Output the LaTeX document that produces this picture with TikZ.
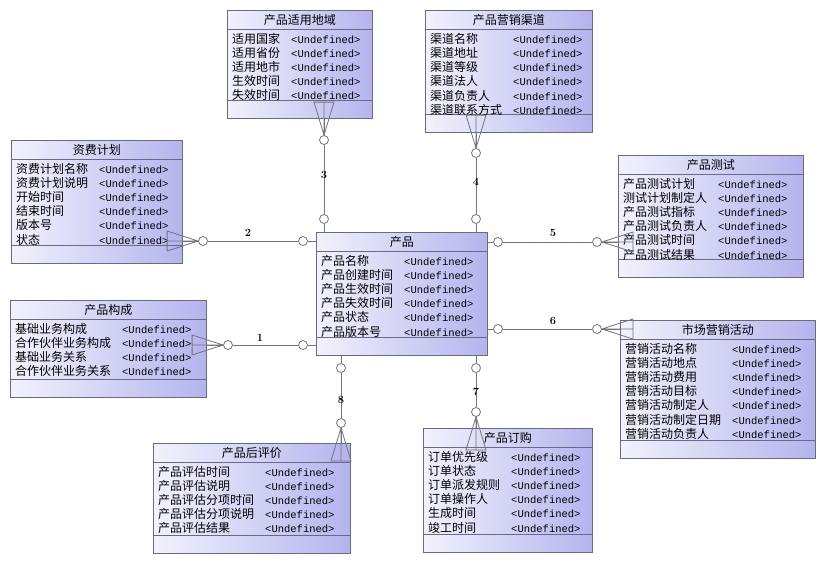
\documentclass[tikz,border=0pt]{standalone}
\usepackage{fontspec}
\newfontfamily\cjk{Noto Sans CJK SC}
\newfontfamily\undf{Liberation Mono}
\usetikzlibrary{calc}
\definecolor{boxl}{HTML}{F2F2FC}
\definecolor{boxr}{HTML}{B4B4EE}
\definecolor{boxline}{HTML}{6A6A88}
\definecolor{linkgray}{HTML}{74747E}
\newcommand\und{{\undf\fontsize{10.5}{13.5}\selectfont<Undefined>}}
% box, title bar, rows and empty bottom bar
\newcommand\entity[7]{%
  \node[ebox,minimum width=#3,minimum height=#4] (#1) at (#2) {};
  \draw[esep] ([yshift=-19pt]#1.north west) -- ([yshift=-19pt]#1.north east);
  \draw[esep] ([yshift=18pt]#1.south west) -- ([yshift=18pt]#1.south east);
  \node[etitle] (#1-t) at ([yshift=-9.5pt]#1.north) {#5};
  \node[erows] (#1-r) at ([xshift=5pt,yshift=-23pt]#1.north west)
    {\begin{tabular}{@{}l@{\hspace{11pt}}l@{}}#6\end{tabular}};
}
\tikzset{
  ebox/.style={draw=boxline,line width=0.8pt,left color=boxl,right color=boxr,
    anchor=north west,inner sep=0pt},
  esep/.style={draw=boxline,line width=0.8pt},
  etitle/.style={font=\cjk\fontsize{12}{13.5}\selectfont,inner sep=0pt},
  erows/.style={anchor=north west,inner sep=0pt,font=\cjk\fontsize{12}{13.5}\selectfont},
  link/.style={draw=linkgray,line width=0.8pt},
  endc/.style={circle,draw=linkgray,fill=white,line width=0.8pt,inner sep=0pt,minimum size=9pt},
  lbl/.style={font=\bfseries\fontsize{11}{12}\selectfont,inner sep=0pt},
  crowh/.pic={\draw[link] (-31,-10) -- (0,0) -- (-31,10) -- cycle (0,0) -- (-31,0);},
  crowv/.pic={\draw[link] (-10,-33) -- (0,0) -- (10,-33) -- cycle (0,0) -- (0,-33);}
}

\begin{document}
\begin{tikzpicture}[x=1pt,y=-1pt]
  \fill[white] (0,0) rectangle (833,582);
  \useasboundingbox (0,0) rectangle (833,582);

  \entity{plan}{11,140}{171}{123}{资费计划}{%
    资费计划名称 & \und\\ 资费计划说明 & \und\\ 开始时间 & \und\\
    结束时间 & \und\\ 版本号 & \und\\ 状态 & \und}{}
  \entity{compose}{10,300}{196}{97}{产品构成}{%
    基础业务构成 & \und\\ 合作伙伴业务构成 & \und\\ 基础业务关系 & \und\\
    合作伙伴业务关系 & \und}{}
  \entity{region}{227,10}{145}{108}{产品适用地域}{%
    适用国家 & \und\\ 适用省份 & \und\\ 适用地市 & \und\\
    生效时间 & \und\\ 失效时间 & \und}{}
  \entity{channel}{425,10}{167}{122}{产品营销渠道}{%
    渠道名称 & \und\\ 渠道地址 & \und\\ 渠道等级 & \und\\
    渠道法人 & \und\\ 渠道负责人 & \und\\ 渠道联系方式 & \und}{}
  \entity{product}{316,232}{171}{123}{产品}{%
    产品名称 & \und\\ 产品创建时间 & \und\\ 产品生效时间 & \und\\
    产品失效时间 & \und\\ 产品状态 & \und\\ 产品版本号 & \und}{}
  \entity{test}{618,155}{185}{122}{产品测试}{%
    产品测试计划 & \und\\ 测试计划制定人 & \und\\ 产品测试指标 & \und\\
    产品测试负责人 & \und\\ 产品测试时间 & \und\\ 产品测试结果 & \und}{}
  \entity{market}{620,320}{195}{138}{市场营销活动}{%
    营销活动名称 & \und\\ 营销活动地点 & \und\\ 营销活动费用 & \und\\
    营销活动目标 & \und\\ 营销活动制定人 & \und\\ 营销活动制定日期 & \und\\
    营销活动负责人 & \und}{}
  \entity{review}{153,443}{197}{110}{产品后评价}{%
    产品评估时间 & \und\\ 产品评估说明 & \und\\ 产品评估分项时间 & \und\\
    产品评估分项说明 & \und\\ 产品评估结果 & \und}{}
  \entity{order}{423,428}{169}{124}{产品订购}{%
    订单优先级 & \und\\ 订单状态 & \und\\ 订单派发规则 & \und\\
    订单操作人 & \und\\ 生成时间 & \und\\ 竣工时间 & \und}{}

  % relationship ends
  \node[endc] (c1a) at (303,345) {};
  \node[endc] (c1b) at (228,345) {};
  \node[endc] (c2a) at (303,241) {};
  \node[endc] (c2b) at (203,241) {};
  \node[endc] (c3a) at (324,219) {};
  \node[endc] (c3b) at (324,140) {};
  \node[endc] (c4a) at (476,219) {};
  \node[endc] (c4b) at (476,153) {};
  \node[endc] (c5a) at (498,242) {};
  \node[endc] (c5b) at (597,242) {};
  \node[endc] (c6a) at (498,329) {};
  \node[endc] (c6b) at (597,329) {};
  \node[endc] (c7a) at (476,368) {};
  \node[endc] (c7b) at (476,412) {};
  \node[endc] (c8a) at (341,368) {};
  \node[endc] (c8b) at (341,423) {};

  \draw[link] (product.west |- c1a) -- (c1a) (c1a) -- (c1b) (c1b) -- (compose.east |- c1b);
  \draw[link] (product.west |- c2a) -- (c2a) (c2a) -- (c2b) (c2b) -- (plan.east |- c2b);
  \draw[link] (product.north -| c3a) -- (c3a) (c3a) -- (c3b) (c3b) -- (region.south -| c3b);
  \draw[link] (product.north -| c4a) -- (c4a) (c4a) -- (c4b) (c4b) -- (channel.south -| c4b);
  \draw[link] (product.east |- c5a) -- (c5a) (c5a) -- (c5b) (c5b) -- (test.west |- c5b);
  \draw[link] (product.east |- c6a) -- (c6a) (c6a) -- (c6b) (c6b) -- (market.west |- c6b);
  \draw[link] (product.south -| c7a) -- (c7a) (c7a) -- (c7b) (c7b) -- (order.north -| c7b);
  \draw[link] (product.south -| c8a) -- (c8a) (c8a) -- (c8b) (c8b) -- (review.north -| c8b);

  % crow's feet
  \pic at (c1b.west) {crowh};
  \pic at (c2b.west) {crowh};
  \pic at (c3b.north) {crowv};
  \pic at (c4b.north) {crowv};
  \pic[xscale=-1] at (c5b.east) {crowh};
  \pic[xscale=-1] at (c6b.east) {crowh};
  \pic[yscale=-1] at (c7b.south) {crowv};
  \pic[yscale=-1] at (c8b.south) {crowv};

  \node[lbl] (l1) at (260,338) {1};
  \node[lbl] (l2) at (248,233) {2};
  \node[lbl] (l3) at (324,175) {3};
  \node[lbl] (l4) at (476,182) {4};
  \node[lbl] (l5) at (553,233) {5};
  \node[lbl] (l6) at (553,321) {6};
  \node[lbl] (l7) at (476,392) {7};
  \node[lbl] (l8) at (341,400) {8};
\end{tikzpicture}
\end{document}
